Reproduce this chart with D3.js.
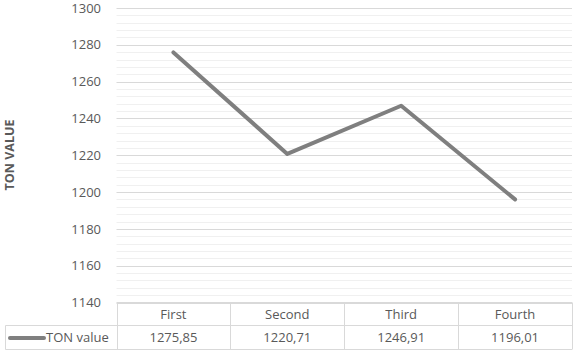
<!DOCTYPE html>
<html><head><meta charset="utf-8">
<script src="https://cdn.jsdelivr.net/npm/d3@7"></script>
<style>body{margin:0;background:#fff}svg{display:block}</style>
</head><body>
<svg id="c" width="575" height="353"></svg>
<script>
const categories = ["First", "Second", "Third", "Fourth"];
const values = [1275.85, 1220.71, 1246.91, 1196.01];
const valueLabels = ["1275,85", "1220,71", "1246,91", "1196,01"];
const seriesName = "TON value";
const axisTitle = "TON VALUE";
const yTicks = [1140, 1160, 1180, 1200, 1220, 1240, 1260, 1280, 1300];

(function () {
const svg = d3.select("#c");
const font = "'Open Sans', sans-serif";
const textCol = "#595959";
const pLeft = 116.5, pRight = 572, pTop = 8, pBottom = 302.5;
const x = d3.scaleBand().domain(categories).range([pLeft, pRight]);
const y = d3.scaleLinear().domain([1140, 1300]).range([pBottom, pTop]);

// minor grid
const minor = d3.range(1140, 1300.1, 4).filter(v => v % 20 !== 0);
svg.append("g").selectAll("line").data(minor).join("line")
  .attr("x1", pLeft).attr("x2", pRight)
  .attr("y1", d => Math.round(y(d)) + 0.5).attr("y2", d => Math.round(y(d)) + 0.5)
  .attr("stroke", "#f0f0f0").attr("stroke-width", 1);
// major grid
svg.append("g").selectAll("line").data(yTicks).join("line")
  .attr("x1", pLeft).attr("x2", pRight)
  .attr("y1", d => Math.round(y(d)) + 0.5).attr("y2", d => Math.round(y(d)) + 0.5)
  .attr("stroke", "#d9d9d9").attr("stroke-width", 1);

// y axis labels
const yAxis = d3.axisLeft(y).tickValues(yTicks).tickSize(0).tickPadding(0).tickFormat(d3.format("d"));
const ga = svg.append("g").attr("transform", `translate(${101},0)`).call(yAxis);
ga.select(".domain").remove();
ga.selectAll("text").attr("font-family", font).attr("font-size", 13).attr("fill", textCol);

// axis title
svg.append("text").attr("transform", `translate(14,155) rotate(-90)`)
  .attr("text-anchor", "middle").attr("font-family", font).attr("font-size", 12.5)
  .attr("font-weight", "bold").attr("fill", textCol).text(axisTitle);

// line
const line = d3.line().x((d, i) => x(categories[i]) + x.bandwidth() / 2).y(d => y(d));
svg.append("path").datum(values).attr("d", line).attr("fill", "none")
  .attr("stroke", "#7f7f7f").attr("stroke-width", 4).attr("stroke-linecap", "round").attr("stroke-linejoin", "round");

// table
const tTop = 302.5, tMid = 325.5, tBot = 349.5, legLeft = 5.5;
const tg = svg.append("g").attr("stroke", "#d9d9d9").attr("stroke-width", 1).attr("fill", "none");
tg.append("line").attr("x1", pLeft).attr("x2", pRight).attr("y1", tTop).attr("y2", tTop);
tg.append("line").attr("x1", legLeft).attr("x2", pRight).attr("y1", tMid).attr("y2", tMid);
tg.append("line").attr("x1", legLeft).attr("x2", pRight).attr("y1", tBot).attr("y2", tBot);
tg.append("line").attr("x1", legLeft).attr("x2", legLeft).attr("y1", tMid).attr("y2", tBot);
const colEdges = categories.map(c => x(c)).concat([pRight]);
tg.selectAll("line.v").data(colEdges).join("line").attr("class", "v")
  .attr("x1", d => Math.round(d) + 0.5).attr("x2", d => Math.round(d) + 0.5).attr("y1", tTop).attr("y2", tBot);

svg.append("g").selectAll("text").data(categories).join("text")
  .attr("x", d => x(d) + x.bandwidth() / 2).attr("y", (tTop + tMid) / 2 + 4.5)
  .attr("text-anchor", "middle").attr("font-family", font).attr("font-size", 13).attr("fill", textCol)
  .text(d => d);
svg.append("g").selectAll("text").data(valueLabels).join("text")
  .attr("x", (d, i) => x(categories[i]) + x.bandwidth() / 2).attr("y", (tMid + tBot) / 2 + 4.5)
  .attr("text-anchor", "middle").attr("font-family", font).attr("font-size", 13).attr("fill", textCol)
  .text(d => d);

// legend
svg.append("line").attr("x1", 10).attr("x2", 44).attr("y1", 338).attr("y2", 338)
  .attr("stroke", "#7f7f7f").attr("stroke-width", 4).attr("stroke-linecap", "round");
svg.append("text").attr("x", 46).attr("y", (tMid + tBot) / 2 + 4.5)
  .attr("font-family", font).attr("font-size", 13).attr("fill", textCol).text(seriesName);
})();
</script>
</body></html>
